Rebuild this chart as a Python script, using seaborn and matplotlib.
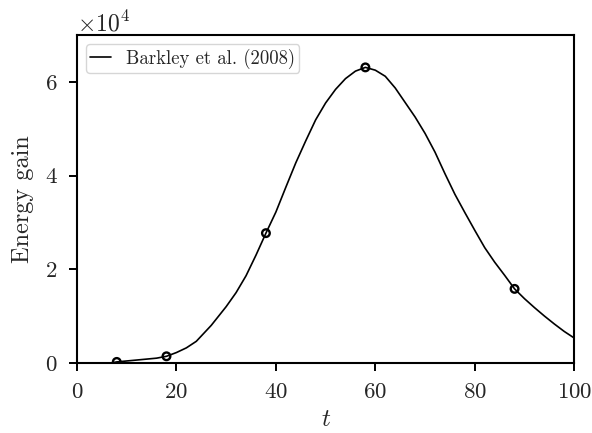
import numpy as np
import pandas as pd
import matplotlib
matplotlib.use('Agg')
import matplotlib.pyplot as plt
import seaborn as sns

### curve (energy in units of 1e4)
t_line = [7, 8, 12, 16, 18, 20, 22, 24, 27, 30, 32, 34, 36, 38, 40, 42, 44, 46,
          48, 50, 52, 54, 56, 58, 60, 62, 64, 66, 68, 70, 72, 74, 76, 78, 80, 82,
          84, 86, 88, 90, 92, 94, 96, 98, 100]
e_line = [0.0, 0.02, 0.06, 0.10, 0.14, 0.22, 0.32, 0.46, 0.80, 1.20, 1.50, 1.86,
          2.30, 2.77, 3.22, 3.75, 4.27, 4.74, 5.19, 5.55, 5.84, 6.07, 6.23, 6.31,
          6.25, 6.12, 5.87, 5.56, 5.25, 4.90, 4.50, 4.04, 3.60, 3.21, 2.83, 2.46,
          2.15, 1.87, 1.58, 1.37, 1.18, 1.00, 0.83, 0.67, 0.53]

### marked points
t_pts = [8, 18, 38, 58, 88]
e_pts = [0.02, 0.14, 2.77, 6.31, 1.58]

line = pd.DataFrame({'t': t_line, 'E': np.array(e_line) * 1e4})
pts = pd.DataFrame({'t': t_pts, 'E': np.array(e_pts) * 1e4})

sns.set_style('ticks')
plt.rcParams['font.family'] = 'serif'
plt.rcParams['font.serif'] = ['cmr10', 'DejaVu Serif']
plt.rcParams['mathtext.fontset'] = 'cm'
plt.rcParams['axes.formatter.use_mathtext'] = True
plt.rcParams['axes.unicode_minus'] = False

fig = plt.figure(figsize=(5.92, 4.33), dpi=100)
ax = fig.add_axes([0.130, 0.162, 0.840, 0.757])

sns.lineplot(data=line, x='t', y='E', ax=ax, color='black', lw=1.2,
             label='Barkley et al. (2008)', sort=False)
sns.scatterplot(data=pts, x='t', y='E', ax=ax, marker='o', s=30,
                facecolor='none', edgecolor='black', linewidth=1.7, zorder=3)

ax.set_xlim(0, 100)
ax.set_ylim(0, 7e4)
ax.set_xticks([0, 20, 40, 60, 80, 100])
ax.set_yticks([0, 2e4, 4e4, 6e4])
ax.ticklabel_format(axis='y', style='sci', scilimits=(0, 0))
ax.set_xlabel('$t$', fontsize=18, labelpad=5)
ax.set_ylabel('Energy gain', fontsize=17.5, labelpad=8)
ax.tick_params(labelsize=16.5, width=1.4, length=6, pad=8, direction='out', color='black')
ax.yaxis.get_offset_text().set_fontsize(17)
for s in ax.spines.values():
    s.set_linewidth(1.5)
    s.set_color('black')
    s.set_visible(True)

ax.legend(loc='upper left', fontsize=13.5, frameon=True, fancybox=True,
          edgecolor='#cccccc', handlelength=1.1, borderpad=0.22,
          bbox_to_anchor=(0.0, 1.0))

fig.savefig('out.png', dpi=100)
